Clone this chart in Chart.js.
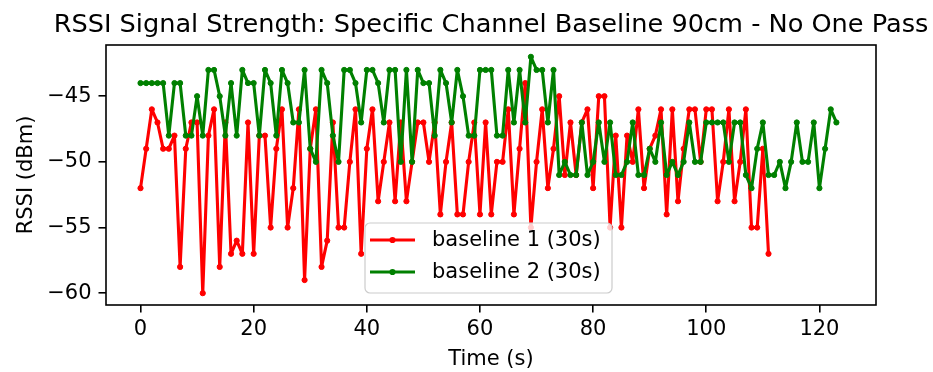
<!DOCTYPE html>
<html>
<head>
<meta charset="utf-8">
<script src="https://cdn.jsdelivr.net/npm/chart.js@4.4.1/dist/chart.umd.min.js"></script>
<style>
  html, body { margin: 0; padding: 0; background: #fff; }
  #wrap { width: 933px; height: 372px; }
</style>
</head>
<body>
<div id="wrap"><canvas id="rssi-chart" width="933" height="372"></canvas></div>
<script>
const chartTitle = "RSSI Signal Strength: Specific Channel Baseline 90cm - No One Pass";
const xLabel = "Time (s)";
const yLabel = "RSSI (dBm)";
const seriesNames = ["baseline 1 (30s)", "baseline 2 (30s)"];
const seriesColors = ["#ff0000", "#008000"];

// RSSI readings, one per second
const baseline1 = [
  -52, -49, -46, -47, -49, -49, -48, -58, -49, -47,
  -47, -60, -48, -46, -58, -47, -57, -56, -57, -47,
  -57, -48, -48, -55, -49, -46, -55, -52, -46, -59,
  -49, -46, -58, -56, -47, -55, -55, -50, -46, -57,
  -49, -46, -53, -50, -47, -53, -47, -53, -50, -47,
  -47, -50, -47, -54, -50, -47, -54, -54, -50, -47,
  -54, -47, -54, -50, -50, -46, -54, -49, -44, -55,
  -50, -46, -52, -49, -45, -51, -47, -51, -47, -46,
  -52, -45, -45, -55, -48, -55, -48, -50, -46, -52,
  -49, -48, -46, -54, -46, -53, -49, -46, -46, -50,
  -46, -46, -53, -50, -46, -53, -50, -46, -55, -55,
  -49, -57
];
const baseline2 = [
  -44, -44, -44, -44, -44, -48, -44, -44, -48, -48,
  -45, -48, -43, -43, -45, -48, -44, -48, -43, -44,
  -44, -48, -43, -44, -48, -43, -44, -47, -47, -43,
  -49, -50, -43, -44, -48, -50, -43, -43, -44, -47,
  -43, -43, -44, -47, -43, -43, -50, -43, -50, -43,
  -44, -44, -48, -43, -44, -47, -43, -45, -48, -48,
  -43, -43, -43, -48, -48, -43, -47, -43, -47, -42,
  -43, -43, -47, -43, -51, -50, -51, -51, -47, -51,
  -50, -47, -50, -47, -51, -51, -50, -47, -51, -51,
  -49, -50, -47, -51, -50, -51, -50, -47, -50, -50,
  -47, -47, -47, -47, -50, -47, -47, -51, -52, -49,
  -47, -51, -51, -50, -52, -50, -47, -50, -50, -47,
  -52, -49, -46, -47
];

const xTicks = [0, 20, 40, 60, 80, 100, 120];
const yTicks = [-60, -55, -50, -45];

const FONT = "'DejaVu Sans', 'Liberation Sans', sans-serif";

function toPoints(values) {
  return values.map((v, i) => ({ x: i, y: v }));
}
function fmt(v) {
  return String(v).replace("-", "\u2212");
}

// title, frame, axis labels and legend drawn the matplotlib way
const mplDecor = {
  id: "mplDecor",
  beforeDraw(chart) {
    const ctx = chart.ctx;
    ctx.save();
    ctx.fillStyle = "#fff";
    ctx.fillRect(0, 0, chart.width, chart.height);
    ctx.restore();
  },
  afterDraw(chart) {
    const ctx = chart.ctx;
    const a = chart.chartArea;
    const cx = (a.left + a.right) / 2;
    ctx.save();

    // frame
    ctx.strokeStyle = "#000";
    ctx.lineWidth = 1.6;
    ctx.strokeRect(a.left, a.top, a.right - a.left, a.bottom - a.top);

    // title
    ctx.fillStyle = "#000";
    ctx.font = "25.6px " + FONT;
    ctx.textAlign = "center";
    ctx.textBaseline = "alphabetic";
    ctx.fillText(chartTitle, cx, 32);

    // axis labels
    ctx.font = "21px " + FONT;
    ctx.fillText(xLabel, cx, 365);
    ctx.save();
    ctx.translate(27, (a.top + a.bottom) / 2);
    ctx.rotate(-Math.PI / 2);
    ctx.textBaseline = "middle";
    ctx.fillText(yLabel, 0, 0);
    ctx.restore();

    // legend
    const bx = 365, by = 223, bw = 247, bh = 70, r = 5;
    ctx.beginPath();
    ctx.moveTo(bx + r, by);
    ctx.arcTo(bx + bw, by, bx + bw, by + bh, r);
    ctx.arcTo(bx + bw, by + bh, bx, by + bh, r);
    ctx.arcTo(bx, by + bh, bx, by, r);
    ctx.arcTo(bx, by, bx + bw, by, r);
    ctx.closePath();
    ctx.fillStyle = "rgba(255,255,255,0.8)";
    ctx.fill();
    ctx.strokeStyle = "#cccccc";
    ctx.lineWidth = 1.2;
    ctx.stroke();

    const rows = [240, 272];
    chart.data.datasets.forEach((ds, i) => {
      const y = rows[i];
      ctx.strokeStyle = ds.borderColor;
      ctx.lineWidth = ds.borderWidth;
      ctx.beginPath();
      ctx.moveTo(370, y);
      ctx.lineTo(415, y);
      ctx.stroke();
      ctx.fillStyle = ds.borderColor;
      ctx.beginPath();
      ctx.arc(392.5, y, ds.pointRadius + 0.5, 0, Math.PI * 2);
      ctx.fill();
      ctx.fillStyle = "#000";
      ctx.font = "21px " + FONT;
      ctx.textAlign = "left";
      ctx.textBaseline = "middle";
      ctx.fillText(ds.label, 432, y + 1);
    });

    ctx.restore();
  }
};

const series = [baseline1, baseline2];

new Chart(document.getElementById("rssi-chart"), {
  type: "line",
  data: {
    datasets: series.map((vals, i) => ({
      label: seriesNames[i],
      data: toPoints(vals),
      order: series.length - i, // later series drawn on top, as in matplotlib
      borderColor: seriesColors[i],
      backgroundColor: seriesColors[i],
      borderWidth: 3.1,
      borderJoinStyle: "round",
      borderCapStyle: "round",
      pointRadius: 2.6,
      pointBorderWidth: 1,
      pointBackgroundColor: seriesColors[i],
      pointBorderColor: seriesColors[i],
      tension: 0,
      fill: false
    }))
  },
  options: {
    responsive: false,
    devicePixelRatio: 1,
    animation: false,
    layout: { padding: { top: 45, right: 57, left: 0, bottom: 0 } },
    plugins: {
      legend: { display: false },
      tooltip: { enabled: false },
      title: { display: false }
    },
    scales: {
      x: {
        type: "linear",
        min: -6.1,
        max: 130,
        afterBuildTicks: (s) => { s.ticks = xTicks.map((v) => ({ value: v })); },
        afterFit: (s) => { s.height = 67; },
        ticks: {
          color: "#000",
          font: { family: FONT, size: 21 },
          padding: 4,
          maxRotation: 0,
          callback: (v) => fmt(v)
        },
        grid: {
          drawOnChartArea: false,
          drawTicks: true,
          tickLength: 7.5,
          color: "#000",
          lineWidth: 1.6
        },
        border: { display: false }
      },
      y: {
        type: "linear",
        min: -60.9,
        max: -41.1,
        afterBuildTicks: (s) => { s.ticks = yTicks.map((v) => ({ value: v })); },
        afterFit: (s) => { s.width = 106; },
        ticks: {
          color: "#000",
          font: { family: FONT, size: 21 },
          padding: 7,
          callback: (v) => fmt(v)
        },
        grid: {
          drawOnChartArea: false,
          drawTicks: true,
          tickLength: 7.5,
          color: "#000",
          lineWidth: 1.6
        },
        border: { display: false }
      }
    }
  },
  plugins: [mplDecor]
});
</script>
</body>
</html>
